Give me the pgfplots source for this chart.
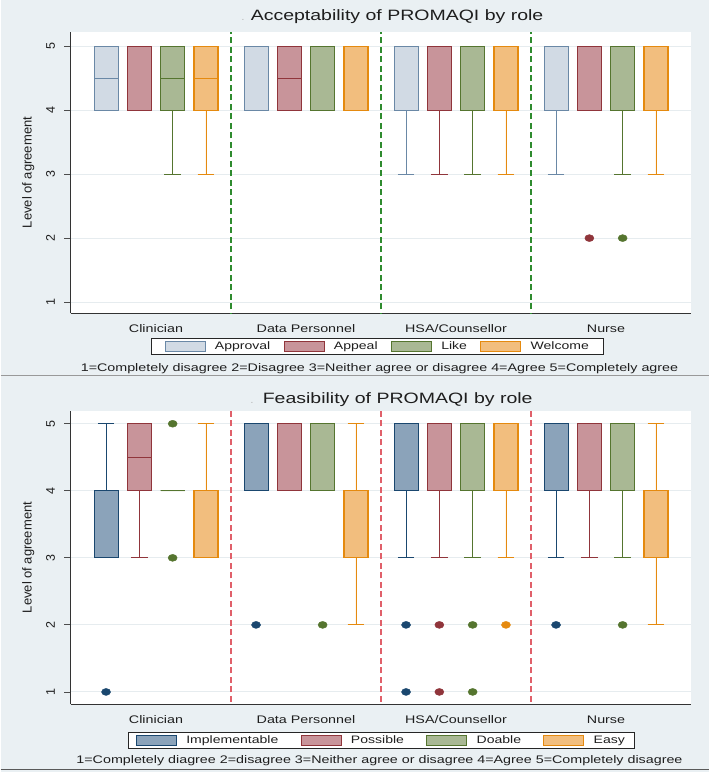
\documentclass[border=0pt]{standalone}
\usepackage{pgfplots}
\pgfplotsset{compat=1.18}
\usepgfplotslibrary{statistics}
\usepackage{fontspec}
\setmainfont{Liberation Sans}

\definecolor{bg}{HTML}{EAF0F3}
\definecolor{gridc}{HTML}{E6ECEF}
\definecolor{navyE}{HTML}{1A476F}
\definecolor{navyF}{HTML}{8BA3BA}
\definecolor{lnavyE}{HTML}{6A88A6}
\definecolor{lnavyF}{HTML}{D1DAE4}
\definecolor{marE}{HTML}{90353B}
\definecolor{marF}{HTML}{C8949A}
\definecolor{grnE}{HTML}{55752F}
\definecolor{grnF}{HTML}{A9B894}
\definecolor{orgE}{HTML}{E58A0F}
\definecolor{orgF}{HTML}{F2BE7E}
\definecolor{sepG}{HTML}{2E8B2E}
\definecolor{sepR}{HTML}{E0606A}
\definecolor{txt}{HTML}{1E1E1E}

\tikzset{
  tA/.style={draw=lnavyE, fill=lnavyF},
  tB/.style={draw=marE, fill=marF},
  tC/.style={draw=grnE, fill=grnF},
  tD/.style={draw=orgE, fill=orgF},
  bA/.style={draw=navyE, fill=navyF},
  bB/.style={draw=marE, fill=marF},
  bC/.style={draw=grnE, fill=grnF},
  bD/.style={draw=orgE, fill=orgF},
}

% box: position, lower whisker, lower quartile, median, upper quartile, upper whisker, style
\newcommand{\bx}[7]{\addplot[#7, line width=1.1bp, solid, forget plot,
  boxplot prepared={draw position=#1, lower whisker=#2, lower quartile=#3,
  median=#4, upper quartile=#5, upper whisker=#6}] coordinates {};}

\pgfplotsset{
  panel/.style={
    scale only axis, width=620bp,
    xmin=0.43, xmax=4.5633,
    xtick={1,2,3,4},
    xticklabels={Clinician, Data Personnel, HSA/Counsellor, Nurse},
    ytick={1,2,3,4,5},
    axis x line*=bottom, axis y line*=left,
    axis line style={-, line width=0.8bp, draw=black!80},
    tick align=outside, major tick length=6bp,
    xtick style={draw=none},
    ytick style={line width=0.8bp, draw=black!70},
    ymajorgrids, grid style={draw=gridc, line width=1bp},
    axis background/.style={fill=white},
    boxplot/draw direction=y,
    boxplot/box extend=0.16, boxplot/whisker extend=0.11,
    boxplot/every whisker/.style={line width=0.9bp},
    /pgf/number format/assume math mode=true,
    tick label style={font=\fontsize{12.5bp}{14bp}\selectfont, text=txt},
    xticklabel style={xscale=1.3, yshift=-2bp, font=\fontsize{11bp}{13bp}\selectfont},
    yticklabel style={rotate=90, yshift=6bp},
    ylabel={Level of agreement},
    every axis y label/.style={at={(axis description cs:-0.068,0.5)}, rotate=90,
      anchor=center, font=\fontsize{13bp}{15bp}\selectfont, text=txt},
    legend columns=4,
    legend image code/.code={\draw[##1, line width=1bp] (0bp,-5bp) rectangle (40bp,5bp);},
    legend style={anchor=center, draw=black!85, fill=white, line width=0.7bp,
      font=\fontsize{10.8bp}{13bp}\selectfont, text=txt,
      nodes={xscale=1.3, inner xsep=1bp}, inner ysep=1.5bp},
  },
  out/.style={only marks, mark=*, mark size=3.5bp, mark options={xscale=1.3, solid}, forget plot},
  sep/.style={line width=1.2bp, dash pattern=on 6bp off 3.5bp, forget plot},
}

\begin{document}
\begin{tikzpicture}
\fill[bg] (0,0) rectangle (708bp,-772bp);
\draw[black!40, line width=0.8bp] (0,-375bp) -- (708bp,-375bp);
\draw[black!65, line width=1bp] (0,-769.5bp) -- (708bp,-769.5bp);

% ---------- Acceptability ----------
\begin{axis}[panel, at={(70bp,-313bp)}, anchor=south west, height=281bp,
  ymin=0.83, ymax=5.22,
  legend style={at={(0.495,-0.119)}, inner xsep=13bp,
    /tikz/every odd column/.style={column sep=8bp},
    /tikz/every even column/.style={column sep=12bp}}]
\bx{0.667}{4}{4}{4.5}{5}{5}{tA}
\bx{0.889}{4}{4}{5}{5}{5}{tB}
\bx{1.111}{3}{4}{4.5}{5}{5}{tC}
\bx{1.333}{3}{4}{4.5}{5}{5}{tD}
\bx{1.667}{4}{4}{5}{5}{5}{tA}
\bx{1.889}{4}{4}{4.5}{5}{5}{tB}
\bx{2.111}{4}{4}{5}{5}{5}{tC}
\bx{2.333}{4}{4}{5}{5}{5}{tD}
\bx{2.667}{3}{4}{5}{5}{5}{tA}
\bx{2.889}{3}{4}{4}{5}{5}{tB}
\bx{3.111}{3}{4}{5}{5}{5}{tC}
\bx{3.333}{3}{4}{5}{5}{5}{tD}
\bx{3.667}{3}{4}{5}{5}{5}{tA}
\bx{3.889}{4}{4}{5}{5}{5}{tB}
\bx{4.111}{3}{4}{5}{5}{5}{tC}
\bx{4.333}{3}{4}{5}{5}{5}{tD}
\addplot[out, color=marE] coordinates {(3.889,2)};
\addplot[out, color=grnE] coordinates {(4.111,2)};
\addplot[sep, color=sepG] coordinates {(1.5,0) (1.5,6)};
\addplot[sep, color=sepG] coordinates {(2.5,0) (2.5,6)};
\addplot[sep, color=sepG] coordinates {(3.5,0) (3.5,6)};
\addlegendimage{tA}\addlegendentry{Approval}
\addlegendimage{tB}\addlegendentry{Appeal}
\addlegendimage{tC}\addlegendentry{Like}
\addlegendimage{tD}\addlegendentry{Welcome}
\end{axis}

% ---------- Feasibility ----------
\begin{axis}[panel, at={(70bp,-704bp)}, anchor=south west, height=293bp,
  ymin=0.82, ymax=5.19,
  legend style={at={(0.501,-0.123)}, inner xsep=8bp,
    /tikz/every odd column/.style={column sep=8bp},
    /tikz/every even column/.style={column sep=21bp}}]
\bx{0.667}{3}{3}{4}{4}{5}{bA}
\bx{0.889}{3}{4}{4.5}{5}{5}{bB}
\bx{1.111}{4}{4}{4}{4}{4}{bC}
\bx{1.333}{3}{3}{4}{4}{5}{bD}
\bx{1.667}{4}{4}{5}{5}{5}{bA}
\bx{1.889}{4}{4}{5}{5}{5}{bB}
\bx{2.111}{4}{4}{5}{5}{5}{bC}
\bx{2.333}{2}{3}{4}{4}{5}{bD}
\bx{2.667}{3}{4}{5}{5}{5}{bA}
\bx{2.889}{3}{4}{5}{5}{5}{bB}
\bx{3.111}{3}{4}{5}{5}{5}{bC}
\bx{3.333}{3}{4}{5}{5}{5}{bD}
\bx{3.667}{3}{4}{5}{5}{5}{bA}
\bx{3.889}{3}{4}{5}{5}{5}{bB}
\bx{4.111}{3}{4}{5}{5}{5}{bC}
\bx{4.333}{2}{3}{4}{4}{5}{bD}
\addplot[out, color=navyE] coordinates {(0.667,1) (1.667,2) (2.667,2) (2.667,1) (3.667,2)};
\addplot[out, color=marE] coordinates {(2.889,2) (2.889,1)};
\addplot[out, color=grnE] coordinates {(1.111,5) (1.111,3) (2.111,2) (3.111,2) (3.111,1) (4.111,2)};
\addplot[out, color=orgE] coordinates {(3.333,2)};
\addplot[sep, color=sepR] coordinates {(1.5,0) (1.5,6)};
\addplot[sep, color=sepR] coordinates {(2.5,0) (2.5,6)};
\addplot[sep, color=sepR] coordinates {(3.5,0) (3.5,6)};
\addlegendimage{bA}\addlegendentry{Implementable}
\addlegendimage{bB}\addlegendentry{Possible}
\addlegendimage{bC}\addlegendentry{Doable}
\addlegendimage{bD}\addlegendentry{Easy}
\end{axis}

% titles and notes
\node[anchor=west, inner sep=0pt, text=black!30] at (241bp,-20bp) {.};
\node[anchor=west, inner sep=0pt, xscale=1.3, text=txt,
  font=\fontsize{15bp}{18bp}\selectfont] at (250bp,-17bp) {Acceptability of PROMAQI by role};
\node[anchor=west, inner sep=0pt, text=black!30] at (250bp,-403bp) {.};
\node[anchor=west, inner sep=0pt, xscale=1.3, text=txt,
  font=\fontsize{15bp}{18bp}\selectfont] at (262bp,-400bp) {Feasibility of PROMAQI by role};
\node[inner sep=0pt, xscale=1.3, text=txt, font=\fontsize{11bp}{13bp}\selectfont]
  at (379bp,-369bp) {1=Completely disagree 2=Disagree 3=Neither agree or disagree 4=Agree 5=Completely agree};
\node[inner sep=0pt, xscale=1.3, text=txt, font=\fontsize{11bp}{13bp}\selectfont]
  at (379bp,-761bp) {1=Completely diagree 2=disagree 3=Neither agree or disagree 4=Agree 5=Completely disagree};
\end{tikzpicture}
\end{document}
